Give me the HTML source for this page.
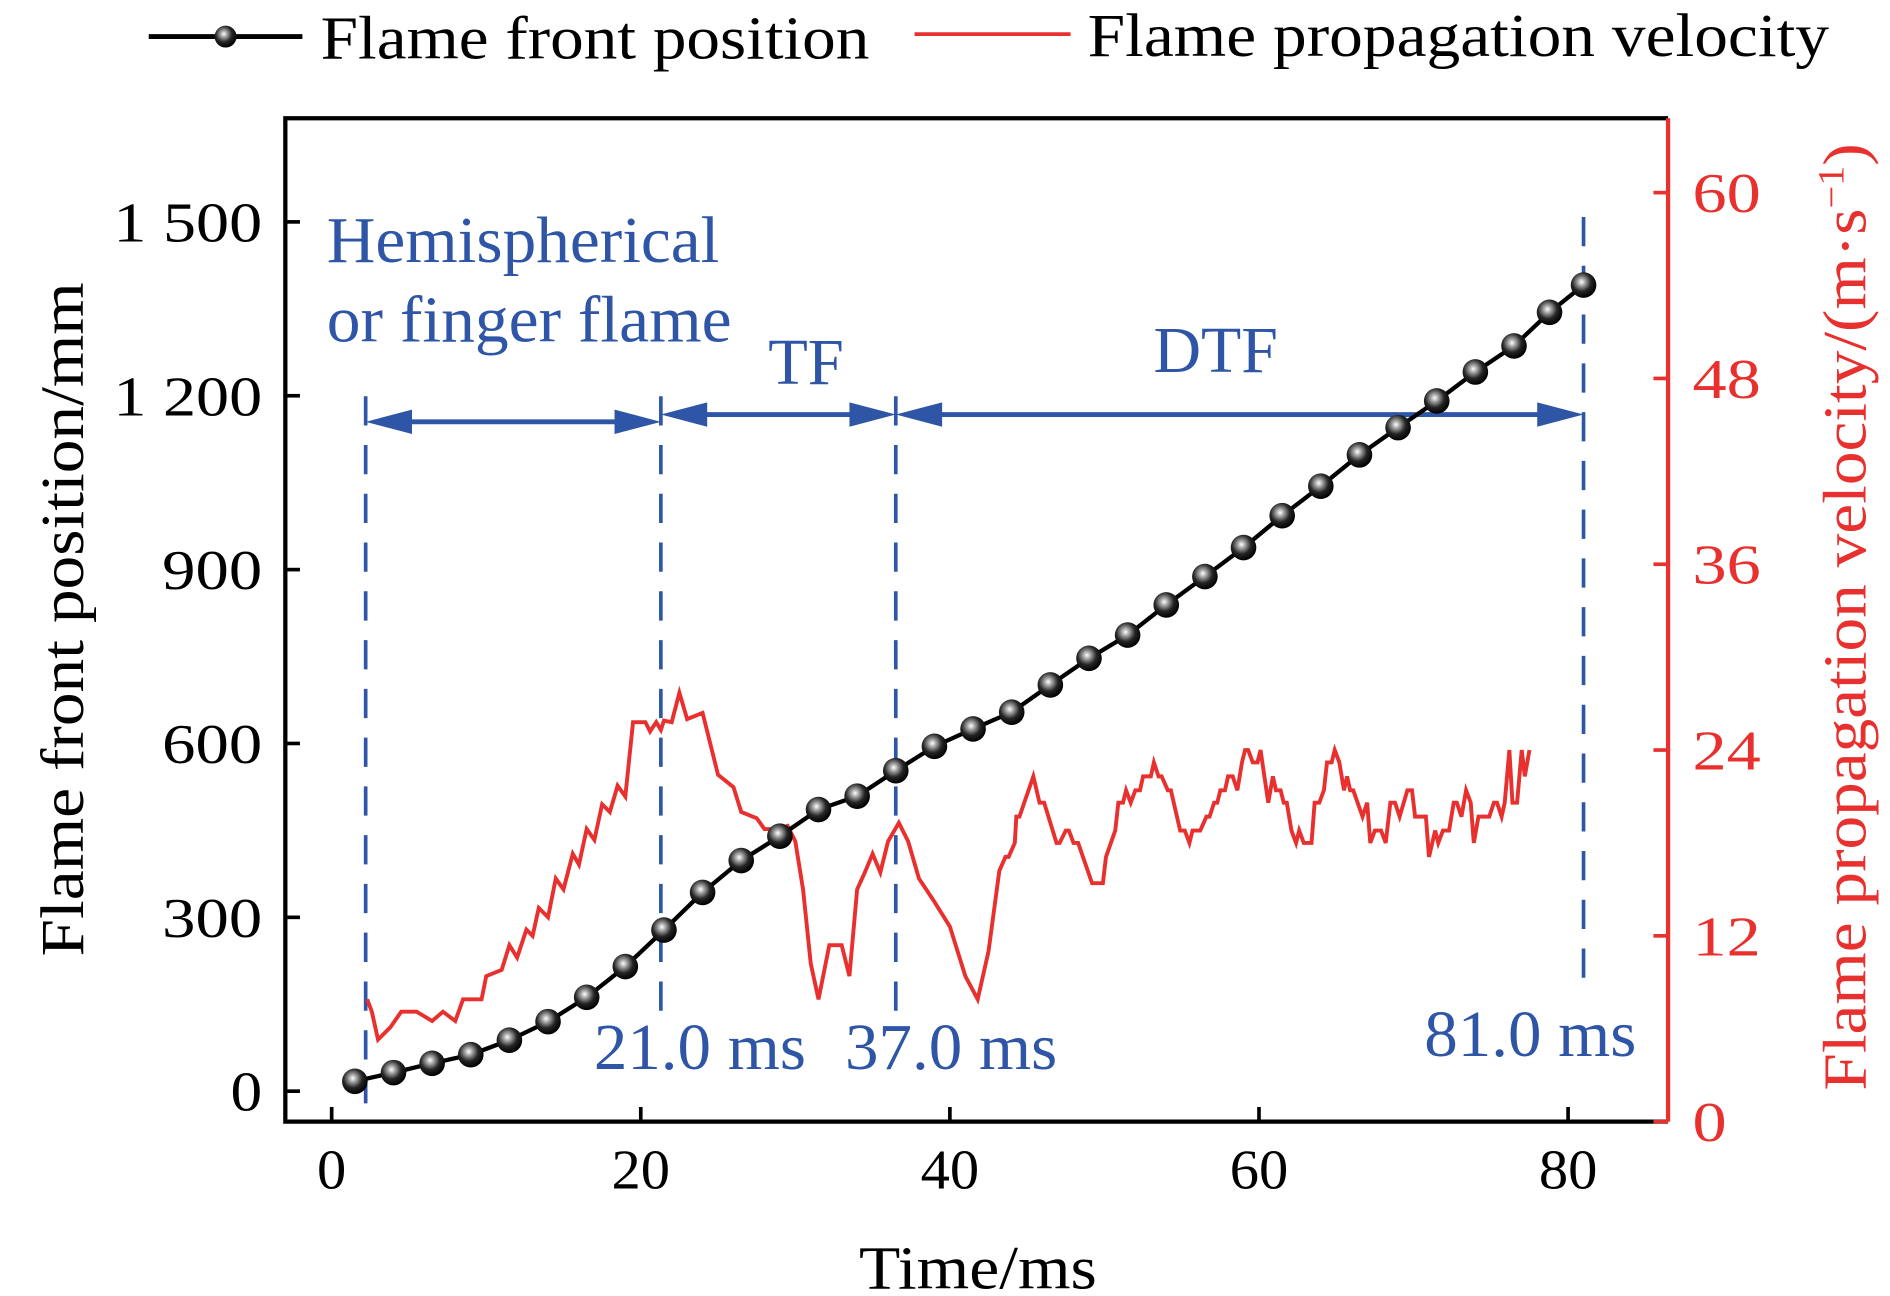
<!DOCTYPE html>
<html><head><meta charset="utf-8"><style>
html,body{margin:0;padding:0;background:#fff;}
svg{display:block;}
svg text{font-family:"Liberation Serif","Times New Roman",serif;}
</style></head><body>
<svg id="chart" font-family="Liberation Serif, Times New Roman, serif" width="1890" height="1296" viewBox="0 0 1550 1063" preserveAspectRatio="none" xmlns="http://www.w3.org/2000/svg">
<defs>
<radialGradient id="ball" cx="0.42" cy="0.38" r="0.62">
<stop offset="0" stop-color="#ffffff"/><stop offset="0.25" stop-color="#a0a0a0"/><stop offset="0.6" stop-color="#252525"/><stop offset="1" stop-color="#000"/>
</radialGradient>
</defs>
<g>
<g>
<line x1="122" y1="30" x2="248" y2="30" stroke="#000" stroke-width="4"/>
<circle cx="185" cy="30" r="9" fill="url(#ball)"/>
<text x="263" y="48" font-size="50" textLength="450" lengthAdjust="spacingAndGlyphs">Flame front position</text>
</g>
<g>
<line x1="750" y1="28" x2="878" y2="28" stroke="#e8302e" stroke-width="3"/>
<text x="892" y="46" font-size="50" textLength="608" lengthAdjust="spacingAndGlyphs">Flame propagation velocity</text>
</g>
</g>
<g id="axes"></g>
<g id="annot"></g>
<g id="series"></g>
</svg>
<script>
const posTime=[1.5,4,6.5,9,11.5,14,16.5,19,21.5,24,26.5,29,31.5,34,36.5,39,41.5,44,46.5,49,51.5,54,56.5,59,61.5,64,66.5,69,71.5,74,76.5,78.8,81];
const posValue=[17,32,48,63,88,120,162,215,278,343,398,440,486,509,553,595,625,654,701,747,787,839,888,938,993,1044,1098,1145,1191,1241,1286,1344,1391];
const velTime=[2.3,2.6,3,3.8,4.5,5.5,6.5,7.2,8,8.5,9.7,10,11,11.5,12,12.6,13,13.4,14,14.5,15,15.6,16,16.5,17,17.5,18,18.5,19,19.5,20.3,20.6,21,21.3,21.5,22,22.5,23,24,24.5,25,26,26.5,27.5,28,29,29.5,30,30.5,31,31.5,32.2,33,33.5,34,34.5,35,35.5,36,36.7,37.3,38,39,40,41,41.8,42.5,43.2,43.6,43.8,44.2,44.3,44.5,45.4,45.8,46.1,46.9,47.1,47.5,47.7,48.0,48.3,49.2,49.9,50.1,50.7,50.9,51.2,51.4,51.7,52.0,52.3,52.5,53.0,53.2,53.5,53.7,54.1,54.3,54.9,55.2,55.5,55.7,56.2,56.6,56.8,57.1,57.3,57.5,57.8,58.0,58.3,58.6,58.9,59.1,59.3,59.6,59.9,60.1,60.6,60.9,61.1,61.4,61.6,61.8,62.1,62.4,62.6,62.9,63.4,63.6,63.9,64.2,64.4,64.7,64.9,65.2,65.5,65.7,65.9,66.1,66.7,67.0,67.2,67.5,67.9,68.2,68.5,68.8,69.1,69.6,69.9,70.1,70.8,71.0,71.4,71.6,71.9,72.3,72.6,72.8,73.1,73.4,73.7,73.9,74.2,74.9,75.2,75.4,75.7,75.9,76.2,76.4,76.7,77.0,77.2,77.5];
const velValue=[7.9,7.1,5.3,6.1,7.1,7.1,6.5,7.1,6.5,7.9,7.9,9.4,9.8,11.4,10.6,12.4,12.0,13.8,13.2,15.7,15.0,17.3,16.6,18.9,18.2,20.5,20.0,21.7,21.0,25.8,25.8,25.2,25.8,25.3,25.9,25.8,27.7,26,26.4,24.4,22.4,21.6,20,19.6,18.9,18.9,19.1,18.1,15,10.2,7.9,11.4,11.4,9.4,15,16.1,17.3,16.1,18.1,19.3,18.1,15.7,14.2,12.6,9.4,7.9,11,16.2,17.1,17.1,18.0,19.7,19.7,22.3,20.6,20.6,18.0,18.0,18.8,18.8,18.0,18.0,15.4,15.4,17.1,18.8,20.6,20.6,21.4,20.6,21.4,21.4,22.3,22.3,23.2,22.3,22.3,21.4,21.4,18.8,18.8,18.0,18.8,18.8,19.7,19.7,20.6,20.6,21.4,21.4,22.3,22.3,21.4,23.2,24.0,24.0,23.2,23.2,24.0,20.6,22.3,21.4,21.4,20.6,20.6,18.8,18.0,18.8,18.0,18.0,20.6,20.6,21.4,23.2,23.2,24.0,23.2,21.4,22.3,21.4,21.4,19.7,20.6,18.0,18.8,18.8,18.0,20.6,20.6,19.7,21.4,21.4,19.7,19.7,17.1,18.8,18.0,18.8,18.8,20.6,20.6,19.7,21.4,20.6,18.0,19.7,19.7,20.6,20.6,19.7,20.6,24.0,20.6,20.6,24.0,22.3,24.0];
const xTicks=[0,20,40,60,80];
const yLeftTicks=[0,300,600,900,1200,1500];
const yLeftLabels=["0","300","600","900","1 200","1 500"];
const yRightTicks=[0,12,24,36,48,60];
const boundaries=[2.2,21.3,36.5,81.0];

const NS="http://www.w3.org/2000/svg";
const X=t=>272+(t-0)*(1286-272)/80;
const YL=v=>895-v*(895-182)/1500;
const YR=v=>920-v*(920-158)/60;
function mk(tag,attrs,parent,txt){const e=document.createElementNS(NS,tag);for(const k in attrs)e.setAttribute(k,attrs[k]);if(txt!==undefined)e.textContent=txt;parent.appendChild(e);return e;}
const axes=document.getElementById('axes'),annot=document.getElementById('annot'),series=document.getElementById('series');
const L=234,R=1368,T=97,B=920;
let e;
e=mk('path',{d:`M${R} ${T}H${L}V${B}H${R}`,fill:'none',stroke:'#000','stroke-width':3.5},axes);


e=mk('line',{x1:R,y1:T,x2:R,y2:B,stroke:'#e8302e','stroke-width':3.5},axes);


xTicks.forEach(t=>{
 e=mk('line',{x1:X(t),y1:B,x2:X(t),y2:B-12,stroke:'#000','stroke-width':3},axes);
 
 
 e=mk('text',{x:X(t),y:975,'font-size':46,'text-anchor':'middle',textLength:String(t).length*24,lengthAdjust:'spacingAndGlyphs'},axes,String(t));
 
 
});
yLeftTicks.forEach((v,i)=>{
 e=mk('line',{x1:L,y1:YL(v),x2:L+12,y2:YL(v),stroke:'#000','stroke-width':3},axes);
 
 
 const lab=yLeftLabels[i];
 e=mk('text',{x:215,y:YL(v)+16,'font-size':46,'text-anchor':'end',textLength:lab.length===1?26:(lab.length===3?82:122),lengthAdjust:'spacingAndGlyphs'},axes,lab);
 
 
});
yRightTicks.forEach(v=>{
 e=mk('line',{x1:R,y1:YR(v),x2:R-12,y2:YR(v),stroke:'#e8302e','stroke-width':3},axes);
 
 
 e=mk('text',{x:1388,y:YR(v)+16,'font-size':46,fill:'#e8302e',textLength:String(v).length*28,lengthAdjust:'spacingAndGlyphs'},axes,String(v));
 
 
});
e=mk('text',{x:802,y:1057,'font-size':50,'text-anchor':'middle',textLength:195,lengthAdjust:'spacingAndGlyphs'},axes,'Time/ms');


e=mk('text',{x:0,y:0,'font-size':50,'text-anchor':'middle',transform:'translate(68,508) rotate(-90)',textLength:553,lengthAdjust:'spacingAndGlyphs'},axes,'Flame front position/mm');


e=mk('text',{x:0,y:0,'font-size':50,fill:'#e8302e','text-anchor':'middle',transform:'translate(1530,506) rotate(-90)',textLength:777,lengthAdjust:'spacingAndGlyphs'},axes);


e.innerHTML='Flame propagation velocity/(m·s<tspan dy="-18" font-size="30">−1</tspan><tspan dy="18">)</tspan>';

const blue='#2f56a6';
const tops=[325,325,325,178],bots=[905,830,830,805];
boundaries.forEach((t,i)=>{
 e=mk('line',{x1:X(t),y1:tops[i],x2:X(t),y2:bots[i],stroke:blue,'stroke-width':3,'stroke-dasharray':'24 16'},annot);
 
 
});
function arrow(x1,x2,y,name){
 const g=mk('g',{},annot);
 
 
 mk('line',{x1:x1+30,y1:y,x2:x2-30,y2:y,stroke:blue,'stroke-width':4},g);
 mk('polygon',{points:`${x1},${y} ${x1+38},${y-10} ${x1+38},${y+10}`,fill:blue},g);
 mk('polygon',{points:`${x2},${y} ${x2-38},${y-10} ${x2-38},${y+10}`,fill:blue},g);
}
arrow(X(boundaries[0]),X(boundaries[1]),346,'phase-arrow-hemispherical');
arrow(X(boundaries[1]),X(boundaries[2]),340,'phase-arrow-tf');
arrow(X(boundaries[2]),X(boundaries[3]),340,'phase-arrow-dtf');
const labs=[['Hemispherical',268,215,322,'phase-label-hemispherical'],['or finger flame',268,280,332,'phase-label-finger'],['TF',630,315,62,'phase-label-tf'],['DTF',946,305,102,'phase-label-dtf'],['21.0 ms',487,877,174,'boundary-label-21'],['37.0 ms',693,877,174,'boundary-label-37'],['81.0 ms',1168,866,174,'boundary-label-81']];
labs.forEach(a=>{
 e=mk('text',{x:a[1],y:a[2],'font-size':54,fill:blue,textLength:a[3],lengthAdjust:'spacingAndGlyphs'},annot,a[0]);
 
 
});

e=mk('polyline',{points:velTime.map((t,i)=>X(t)+','+YR(velValue[i])).join(' '),fill:'none',stroke:'#e8302e','stroke-width':3.2,'stroke-linejoin':'miter'},series);


e=mk('polyline',{points:posTime.map((t,i)=>X(t)+','+YL(posValue[i])).join(' '),fill:'none',stroke:'#000','stroke-width':3.5},series);


posTime.forEach((t,i)=>{
 e=mk('circle',{cx:X(t),cy:YL(posValue[i]),r:10.5,fill:'url(#ball)'},series);
 
 
});
</script>
</body></html>
